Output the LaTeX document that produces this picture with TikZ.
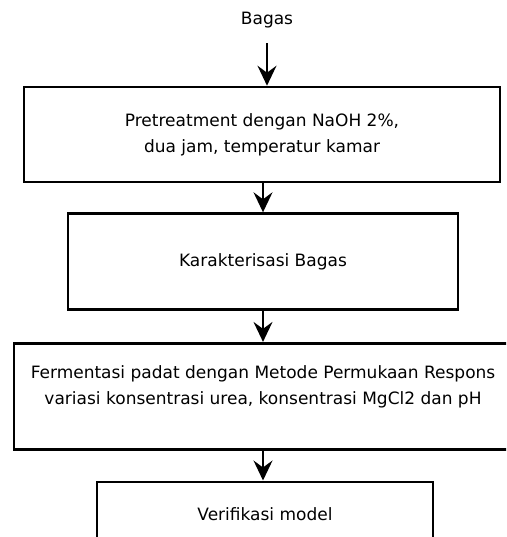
\documentclass[tikz,border=0pt]{standalone}
\usepackage{fontspec}
\setmainfont{DejaVu Sans}
\usepackage{tikz}
\usetikzlibrary{arrows.meta, positioning}

\begin{document}
\begin{tikzpicture}[
    x=1pt, y=1pt,
    font=\fontsize{17}{26}\selectfont,
    stepbox/.style={rectangle, draw, line width=2.6pt, align=center},
    arrow/.style={-{Stealth[length=20pt, width=19pt, inset=7pt]}, line width=1.7pt},
]
    \clip (0,0) rectangle (506,-537);

    \node (bagas) at (267,-20) {Bagas};
    \node[stepbox, minimum width=476pt, minimum height=95pt] (pre) at (262,-134.5)
        {Pretreatment dengan NaOH 2\%,\\dua jam, temperatur kamar};
    \node[stepbox, minimum width=390pt, minimum height=96pt, below=29pt of pre, xshift=1pt] (kar) {Karakterisasi Bagas};
    \node[stepbox, minimum width=498pt, minimum height=106pt, text depth=22pt, below=31pt of kar] (fer)
        {Fermentasi padat dengan Metode Permukaan Respons\\variasi konsentrasi urea, konsentrasi MgCl2 dan pH};
    \node[stepbox, minimum width=336pt, minimum height=64pt, below=30pt of fer, xshift=2pt] (ver) {Verifikasi model};

    \draw[arrow, shorten <=12pt] (bagas.south) -- (bagas.south |- pre.north);
    \draw[arrow] (pre.south -| kar.north) -- (kar.north);
    \draw[arrow] (kar.south) -- (kar.south |- fer.north);
    \draw[arrow] (fer.south) -- (fer.south |- ver.north);
\end{tikzpicture}
\end{document}
